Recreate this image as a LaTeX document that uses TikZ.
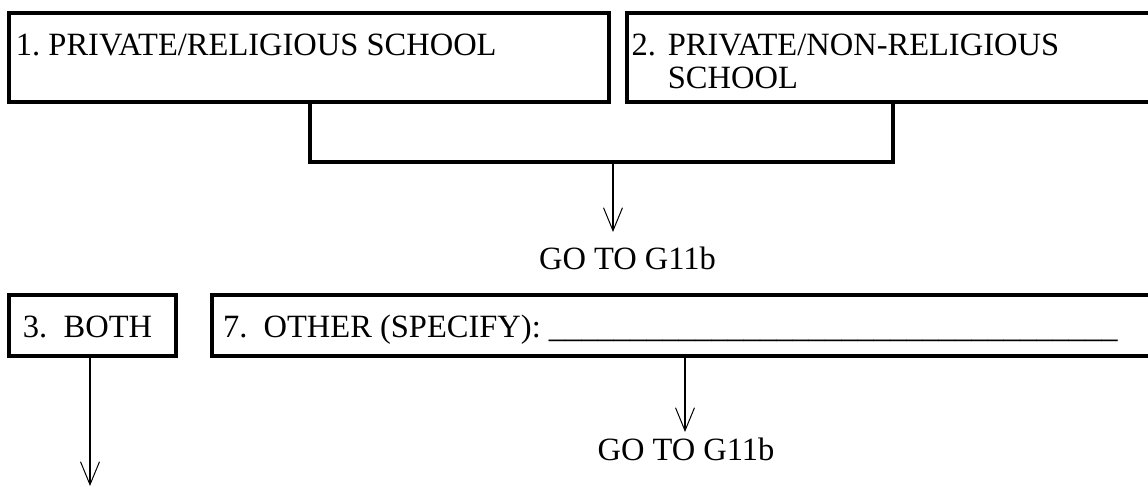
\documentclass[tikz,border=0pt]{standalone}
\usepackage{fontspec}
\setmainfont{Liberation Serif}
\usetikzlibrary{arrows.meta}
\begin{document}
\begin{tikzpicture}[x=1pt,y=-1pt,
  box/.style={draw, line width=4pt, inner sep=0pt, outer sep=0pt, anchor=north west},
  txt/.style={anchor=base west, inner sep=0pt, outer sep=0pt,
              font=\fontsize{32.5}{33}\selectfont\frenchspacing},
  link/.style={line width=4pt},
  goarrow/.style={line width=1.6pt, -{Straight Barb[length=23pt,width=19pt,line width=1pt]}},
]
\useasboundingbox (0,0) rectangle (1148,487);
\clip (0,0) rectangle (1148,487);

% answer boxes
\node[box, minimum width=600pt, minimum height=89pt] (b1) at (9,13) {};
\node[box, minimum width=540pt, minimum height=89pt] (b2) at (626.5,13) {};
\node[box, minimum width=167pt, minimum height=61pt] (b3) at (9,295) {};
\node[box, minimum width=950pt, minimum height=61pt] (b7) at (212,295) {};

% box texts
\node[txt] (l1) at (16,56) {1. PRIVATE/RELIGIOUS SCHOOL};
\node[txt] (l2) at (631.5,56) {\begin{tabular}[t]{@{}l@{\hspace{12pt}}l@{}}2.&PRIVATE/NON-RELIGIOUS\\&SCHOOL\end{tabular}};
\node[txt] (l3) at (23,337) {3.\ \ BOTH};
\node[txt] (l7) at (223,337) {7.\ \ OTHER (SPECIFY): \_\_\_\_\_\_\_\_\_\_\_\_\_\_\_\_\_\_\_\_\_\_\_\_\_\_\_\_\_\_\_\_\_\_\_};

% bracket joining boxes 1 and 2
\coordinate (j) at (613,161.5);
\draw[link] ([xshift=300.5pt]b1.south west) |- (j) -| ([xshift=266.5pt]b2.south west);

% skip arrows
\coordinate (a1) at (613,232);
\draw[goarrow] (j) -- (a1);
\node[txt, anchor=base] (g1) at (627.5,269) {GO TO G11b};

\coordinate (a3) at (90,486);
\draw[goarrow] (b3.south west -| a3) -- (a3);

\coordinate (a7) at (685,432);
\draw[goarrow] (b7.south west -| a7) -- (a7);
\node[txt, anchor=base] (g2) at (686,460) {GO TO G11b};
\end{tikzpicture}
\end{document}
